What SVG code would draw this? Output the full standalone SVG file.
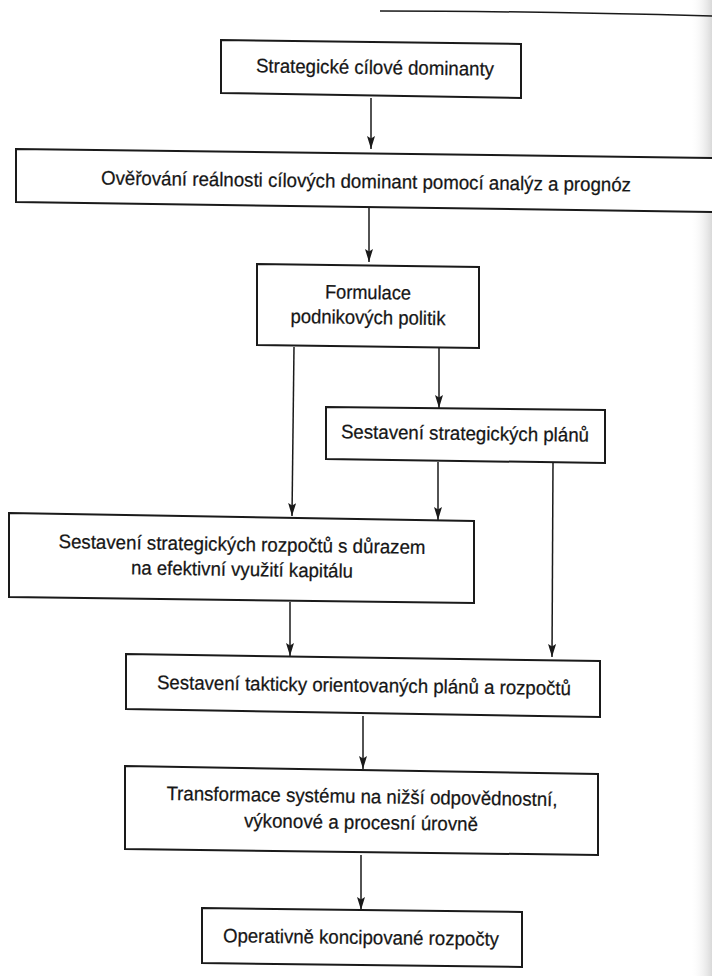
<svg xmlns="http://www.w3.org/2000/svg" width="712" height="976" viewBox="0 0 712 976">
  <style>
    .box { fill: #ffffff; stroke: #1a1a1a; stroke-width: 2; stroke-linejoin: miter; }
    .lbl { font-family: "Liberation Sans", Arial, Helvetica, sans-serif; font-size: 19.5px; fill: #161616; stroke: #161616; stroke-width: 0.25; text-anchor: middle; }
    .edge { fill: none; stroke: #1a1a1a; stroke-width: 1.5; marker-end: url(#arrow); }
    .plain { fill: none; stroke: #1a1a1a; stroke-width: 1.5; }
  </style>
  <defs>
    <marker id="arrow" viewBox="0 0 13 8" refX="13" refY="4" markerWidth="13" markerHeight="8" markerUnits="userSpaceOnUse" orient="auto">
      <path d="M0,0 L13,4 L0,8 L2.5,4 z" fill="#1a1a1a"/>
    </marker>
    <linearGradient id="gutter" x1="0" y1="0" x2="1" y2="0">
      <stop offset="0" stop-color="#ffffff" stop-opacity="0"/>
      <stop offset="1" stop-color="#cfcfcf" stop-opacity="0.8"/>
    </linearGradient>
  </defs>

  <rect x="0" y="0" width="712" height="976" fill="#ffffff"/>
  <rect x="690" y="0" width="22" height="976" fill="url(#gutter)"/>

  <!-- page rule at the top -->
  <path class="plain" d="M380,11 C500,11 600,13 712,16" stroke-width="2.4"/>

  <g id="connectors">
    <path class="edge" d="M371,98 L371,149"/>
    <path class="edge" d="M369,208 L369,262"/>
    <path class="edge" d="M439,348 L439,408"/>
    <path class="edge" d="M294,347 L292,516"/>
    <path class="edge" d="M438,462 L438,520"/>
    <path class="edge" d="M553,463 L552,657"/>
    <path class="edge" d="M290,602 L290,656"/>
    <path class="edge" d="M363,716 L363,769"/>
    <path class="edge" d="M361,855 L361,910"/>
  </g>

  <g id="n1">
    <polygon class="box" points="221,40 521,44 521,98 221,93"/>
    <text class="lbl" x="375" y="74" textLength="238" lengthAdjust="spacingAndGlyphs" transform="rotate(0.8 375 68)">Strategické cílové dominanty</text>
  </g>

  <g id="n2">
    <polygon class="box" points="16,149 720,158 720,212 16,202"/>
    <text class="lbl" x="366" y="188" textLength="530" lengthAdjust="spacingAndGlyphs" transform="rotate(0.75 366 181)">Ověřování reálnosti cílových dominant pomocí analýz a prognóz</text>
  </g>

  <g id="n3">
    <polygon class="box" points="257,264 479,267 479,348 257,345"/>
    <text class="lbl" x="368" y="299" textLength="86" lengthAdjust="spacingAndGlyphs" transform="rotate(0.8 368 292)">Formulace</text>
    <text class="lbl" x="368" y="324" textLength="155" lengthAdjust="spacingAndGlyphs" transform="rotate(0.8 368 317)">podnikových politik</text>
  </g>

  <g id="n4">
    <polygon class="box" points="326,407 605,410 605,463 326,459"/>
    <text class="lbl" x="465" y="440" textLength="248" lengthAdjust="spacingAndGlyphs" transform="rotate(0.8 465 433)">Sestavení strategických plánů</text>
  </g>

  <g id="n5">
    <polygon class="box" points="9,513 474,521 474,603 9,597"/>
    <text class="lbl" x="242" y="551" textLength="367" lengthAdjust="spacingAndGlyphs" transform="rotate(0.9 242 544)">Sestavení strategických rozpočtů s důrazem</text>
    <text class="lbl" x="242" y="576" textLength="222" lengthAdjust="spacingAndGlyphs" transform="rotate(0.9 242 569)">na efektivní využití kapitálu</text>
  </g>

  <g id="n6">
    <polygon class="box" points="126,654 600,661 600,717 126,709"/>
    <text class="lbl" x="364" y="692" textLength="414" lengthAdjust="spacingAndGlyphs" transform="rotate(0.85 364 685)">Sestavení takticky orientovaných plánů a rozpočtů</text>
  </g>

  <g id="n7">
    <polygon class="box" points="125,766 598,774 598,855 125,849"/>
    <text class="lbl" x="362" y="803" textLength="391" lengthAdjust="spacingAndGlyphs" transform="rotate(0.9 362 796)">Transformace systému na nižší odpovědnostní,</text>
    <text class="lbl" x="361" y="829" textLength="234" lengthAdjust="spacingAndGlyphs" transform="rotate(0.9 361 822)">výkonové a procesní úrovně</text>
  </g>

  <g id="n8">
    <polygon class="box" points="202,908 522,912 522,967 202,963"/>
    <text class="lbl" x="361" y="944" textLength="276" lengthAdjust="spacingAndGlyphs" transform="rotate(0.7 361 937)">Operativně koncipované rozpočty</text>
  </g>
</svg>
